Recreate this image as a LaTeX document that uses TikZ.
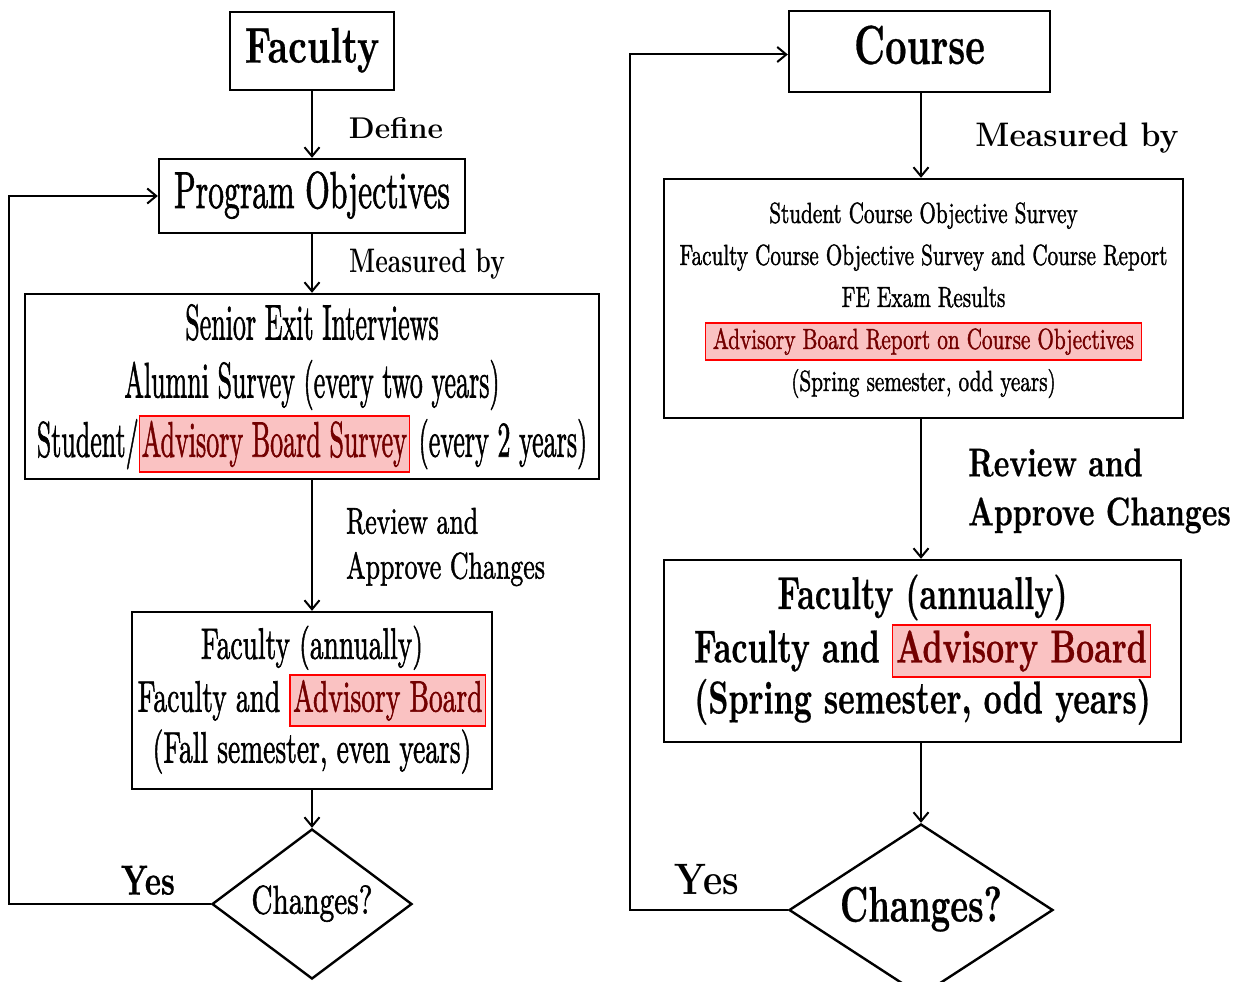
\documentclass[tikz,border=0pt]{standalone}
\usepackage{graphicx}
\usepackage{fontspec}
\usetikzlibrary{shapes.geometric,arrows.meta}

\newfontfamily\heavy{lmroman10-regular.otf}[FakeBold=1.6]
\newfontfamily\heavyb{lmroman10-bold.otf}[FakeBold=0.6]
\definecolor{hlfill}{rgb}{0.98,0.76,0.76}
\definecolor{hltext}{rgb}{0.45,0,0}
\newcommand{\hl}[2][0pt]{{\setlength{\fboxsep}{4pt}\setlength{\fboxrule}{2pt}\fcolorbox{red}{hlfill}{\hspace{#1}\color{hltext}#2\hspace{#1}}}}
\newcommand{\sq}[2]{\scalebox{#1}[1]{\begin{tabular}{@{}c@{}}#2\end{tabular}}}
\newcommand{\sql}[2]{\scalebox{#1}[1]{\begin{tabular}{@{}l@{}}#2\end{tabular}}}

\begin{document}
\begin{tikzpicture}[x=1pt, y=-1pt,
    box/.style={draw, line width=2.4pt, inner sep=0pt},
    decide/.style={diamond, draw, line width=2.4pt, inner sep=0pt},
    conn/.style={line width=2pt, -{Straight Barb[length=9pt, width=15pt]}}]
    \useasboundingbox (0,0) rectangle (1242,982);

    \node[box, minimum width=164pt, minimum height=78pt, font=\fontsize{50}{58}\heavyb] (fac) at (312,51) {\sq{0.73}{Faculty}};
    \node[box, minimum width=306pt, minimum height=74pt, font=\fontsize{52}{60}\heavy] (prog) at (312,196) {\sq{0.61}{Program Objectives}};
    \node[box, minimum width=574pt, minimum height=185pt, font=\fontsize{50}{58}\heavy] (senior) at (312,386.5)
        {\sq{0.52}{Senior Exit Interviews\\ Alumni Survey (every two years)\\ Student/\hl{Advisory Board Survey} (every 2 years)}};
    \node[box, minimum width=360pt, minimum height=177pt, font=\fontsize{44}{51}\heavy] (fann) at (312,700.5)
        {\sq{0.625}{Faculty (annually)\\ Faculty and {\setlength{\fboxsep}{3pt}\hl{Advisory Board}}\\ (Fall semester, even years)}};
    \node[decide, minimum width=200pt, minimum height=150pt, font=\fontsize{40}{48}\heavy] (chg) at (312,904) {\makebox[0pt]{\sq{0.73}{Changes?}}};

    \node[font=\fontsize{30}{36}\bfseries] (define) at (396,128) {Define};
    \node[font=\fontsize{34}{40}\bfseries] (meas) at (427,264) {\sq{0.72}{Measured by}};
    \node[anchor=west, inner sep=0pt, font=\fontsize{37}{45}\heavy] (rev) at (346,547) {\sql{0.70}{Review and\\ Approve Changes}};
    \node[font=\fontsize{42}{48}\heavyb] (yes) at (148,885) {\sq{0.73}{Yes}};

    \draw[conn] (fac) -- (prog);
    \draw[conn] (prog) -- (senior);
    \draw[conn] (senior) -- (fann);
    \draw[conn] (fann) -- (chg);
    \draw[conn] (chg.west) -- ++(-202,0) |- (prog.west);

    \node[box, minimum width=261pt, minimum height=81pt, font=\fontsize{55}{62}\heavyb] (course) at (919.5,51.5) {\sq{0.68}{Course}};
    \node[box, minimum width=519pt, minimum height=239pt, font=\fontsize{29}{42}\heavy] (cbox) at (923.5,298.5)
        {\sq{0.73}{Student Course Objective Survey\\ Faculty Course Objective Survey and Course Report\\ FE Exam Results\\ \hl[5pt]{Advisory Board Report on Course Objectives}\\ (Spring semester, odd years)}};
    \node[box, minimum width=517pt, minimum height=182pt, font=\fontsize{46}{51}\heavyb] (cfac) at (922.5,651)
        {\sq{0.685}{Faculty (annually)\\ Faculty and \hl{Advisory Board}\\ (Spring semester, odd years)}};
    \node[decide, minimum width=264pt, minimum height=172pt, font=\fontsize{50}{58}\heavyb] (cchg) at (921,910) {\makebox[0pt]{\sq{0.68}{Changes?}}};

    \node[font=\fontsize{34}{40}\bfseries] (cmeas) at (1077,138) {\sq{0.94}{Measured by}};
    \node[anchor=west, inner sep=0pt, font=\fontsize{40}{49}\heavyb] (crev) at (968,491) {\sql{0.74}{Review and\\ Approve Changes}};
    \node[font=\fontsize{44}{50}\bfseries] (cyes) at (707,884) {\sq{0.85}{Yes}};

    \draw[conn] (course.south -| cchg) -- (cbox.north -| cchg);
    \draw[conn] (cbox.south -| cchg) -- (cfac.north -| cchg);
    \draw[conn] (cfac.south -| cchg) -- (cchg);
    \draw[conn] (cchg.west) -- ++(-158,0) |- ([yshift=-3pt]course.west);
\end{tikzpicture}
\end{document}
